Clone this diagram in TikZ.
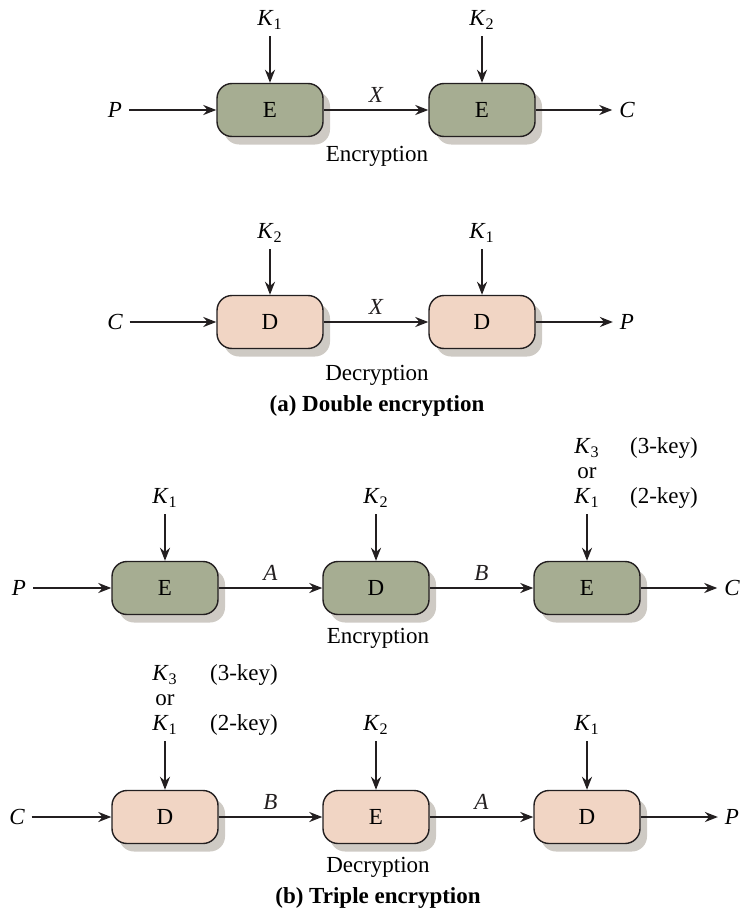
\documentclass[tikz,border=0pt]{standalone}
\usepackage{fontspec}
\setmainfont{Liberation Serif}
\usetikzlibrary{arrows.meta, shadows}
\definecolor{egreen}{RGB}{166,173,146}
\definecolor{dpeach}{RGB}{241,213,196}
\definecolor{sgray}{RGB}{206,202,196}
\definecolor{ink}{RGB}{35,31,32}
\newcommand{\keyk}[1]{\textit{K}\textsubscript{#1}}

\begin{document}
\begin{tikzpicture}[x=0.5pt,y=-0.5pt,
  font=\fontsize{11.5}{12.5}\selectfont,
  box/.style={draw=ink,rounded corners=7.5pt,minimum width=53pt,minimum height=26.5pt,
              line width=0.7pt,
              drop shadow={shadow xshift=3.5pt,shadow yshift=-4pt,fill=sgray,opacity=1}},
  enc/.style={box,fill=egreen},
  dec/.style={box,fill=dpeach},
  var/.style={font=\fontsize{11.5}{12.5}\selectfont\itshape},
  heading/.style={font=\fontsize{11.5}{12.5}\selectfont\bfseries},
  arr/.style={-{Stealth[length=6.5pt,width=5pt]},ink,line width=1.2pt}
]
\useasboundingbox (0,0) rectangle (741,915);
% (a) double encryption
\node[enc] (ea1) at (270,110) {E};
\node[enc] (ea2) at (482,110) {E};
\node[var] (pa1) at (115,110) {P};
\node[var] (ca1) at (627,110) {C};
\node (ka1) at (270,20) {\keyk{1}};
\node (ka2) at (482,20) {\keyk{2}};
\node (enca) at (377,156) {Encryption};
\draw[arr] (pa1) -- (ea1);
\draw[arr] (ea1) -- node[var,above]{X} (ea2);
\draw[arr] (ea2) -- (ca1);
\draw[arr] (ka1) -- (ea1);
\draw[arr] (ka2) -- (ea2);

\node[dec] (da1) at (270,322) {D};
\node[dec] (da2) at (482,322) {D};
\node[var] (ca2) at (115,322) {C};
\node[var] (pa2) at (627,322) {P};
\node (ka3) at (270,233) {\keyk{2}};
\node (ka4) at (482,233) {\keyk{1}};
\node (deca) at (377,375) {Decryption};
\node[heading] (tita) at (377,406) {(a) Double encryption};
\draw[arr] (ca2) -- (da1);
\draw[arr] (da1) -- node[var,above]{X} (da2);
\draw[arr] (da2) -- (pa2);
\draw[arr] (ka3) -- (da1);
\draw[arr] (ka4) -- (da2);

% (b) triple encryption
\node[enc] (eb1) at (165,588) {E};
\node[enc] (db2) at (376,588) {D};
\node[enc] (eb3) at (587,588) {E};
\node[var] (pb1) at (19,588) {P};
\node[var] (cb1) at (732,588) {C};
\node (kb1) at (165,498) {\keyk{1}};
\node (kb2) at (376,498) {\keyk{2}};
\node[align=center] (kb3) at (587,473) {\keyk{3}\\or\\\keyk{1}};
\node (kk3) at (664,448) {(3-key)};
\node (kk2) at (664,498) {(2-key)};
\node (encb) at (378,638) {Encryption};
\draw[arr] (pb1) -- (eb1);
\draw[arr] (eb1) -- node[var,above]{A} (db2);
\draw[arr] (db2) -- node[var,above]{B} (eb3);
\draw[arr] (eb3) -- (cb1);
\draw[arr] (kb1) -- (eb1);
\draw[arr] (kb2) -- (db2);
\draw[arr] (kb3) -- (eb3);

\node[dec] (db4) at (165,817) {D};
\node[dec] (eb5) at (376,817) {E};
\node[dec] (db6) at (587,817) {D};
\node[var] (cb2) at (17,817) {C};
\node[var] (pb2) at (732,817) {P};
\node[align=center] (kb4) at (165,700) {\keyk{3}\\or\\\keyk{1}};
\node (kk4) at (244,675) {(3-key)};
\node (kk5) at (244,725) {(2-key)};
\node (kb5) at (376,725) {\keyk{2}};
\node (kb6) at (587,725) {\keyk{1}};
\node (decb) at (378,867) {Decryption};
\node[heading] (titb) at (378,898) {(b) Triple encryption};
\draw[arr] (cb2) -- (db4);
\draw[arr] (db4) -- node[var,above]{B} (eb5);
\draw[arr] (eb5) -- node[var,above]{A} (db6);
\draw[arr] (db6) -- (pb2);
\draw[arr] (kb4) -- (db4);
\draw[arr] (kb5) -- (eb5);
\draw[arr] (kb6) -- (db6);
\end{tikzpicture}
\end{document}
